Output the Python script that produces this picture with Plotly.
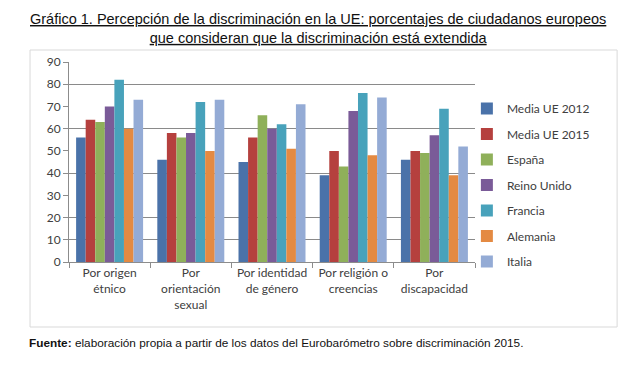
import plotly.graph_objects as go

categories = ["Por origen<br>étnico", "Por<br>orientación<br>sexual", "Por identidad<br>de género",
              "Por religión o<br>creencias", "Por<br>discapacidad"]
series_names = ["Media UE 2012", "Media UE 2015", "España", "Reino Unido", "Francia", "Alemania", "Italia"]
media_ue_2012 = [56, 46, 45, 39, 46]
media_ue_2015 = [64, 58, 56, 50, 50]
espana = [63, 56, 66, 43, 49]
reino_unido = [70, 58, 60, 68, 57]
francia = [82, 72, 62, 76, 69]
alemania = [60, 50, 51, 48, 39]
italia = [73, 73, 71, 74, 52]
y_ticks = [0, 10, 20, 30, 40, 50, 60, 70, 80, 90]
grid_ticks = [10, 20, 40, 60, 80]

series_values = [media_ue_2012, media_ue_2015, espana, reino_unido, francia, alemania, italia]
colors = ["#4a72a9", "#b5403e", "#8fb05a", "#7a5b98", "#48a2bb", "#e48a42", "#94abd5"]

fig = go.Figure()
for name, vals, col in zip(series_names, series_values, colors):
    fig.add_trace(go.Bar(x=categories, y=vals, name=name, marker_color=col,
                         marker_line_width=0, legendgroup=name))

fig.add_trace(go.Scatter(x=[categories[0]], y=[None], yaxis="y2", showlegend=False,
                         hoverinfo="skip"))

# page body has an 8px margin, so the figure is drawn 8px smaller and offset
fig.update_layout(
    width=628, height=363,
    margin=dict(l=61, r=161, t=54, b=109),
    paper_bgcolor="white", plot_bgcolor="white",
    barmode="group", bargap=0.175, bargroupgap=0,
    font=dict(family="Lato, Liberation Sans, sans-serif", size=12, color="#404040"),
    xaxis=dict(type="category", showline=True, linecolor="#8c8c8c", linewidth=1,
               ticks="outside", tickson="boundaries", ticklen=5, tickcolor="#8c8c8c",
               tickfont=dict(size=12, color="#404040"), showgrid=False),
    yaxis=dict(range=[0, 90], tickvals=y_ticks, showline=True, linecolor="#8c8c8c",
               linewidth=1, ticks="outside", ticklen=5, tickcolor="#8c8c8c",
               showgrid=False, zeroline=False, tickfont=dict(size=12, color="#404040")),
    yaxis2=dict(range=[0, 90], overlaying="y", tickvals=grid_ticks, showgrid=True,
                gridcolor="#8a8a8a", gridwidth=1, showticklabels=False, zeroline=False),
    legend=dict(x=0.98, y=0.84, xanchor="left", yanchor="top", tracegroupgap=6.5,
                font=dict(size=12, color="#404040"), bgcolor="rgba(0,0,0,0)"),
    showlegend=True,
)

# outer chart frame
fig.add_shape(type="rect", xref="paper", yref="paper", x0=-0.096, x1=1.350, y0=-0.325, y1=1.06,
              line=dict(color="#d9d9d9", width=1), fillcolor="rgba(0,0,0,0)", layer="below")

fig.add_annotation(
    text="Gráfico 1. Percepción de la discriminación en la UE: porcentajes de ciudadanos europeos<br>que consideran que la discriminación está extendida",
    xref="paper", yref="paper", x=0.613, y=1.165, xanchor="center", yanchor="middle",
    showarrow=False, align="center",
    font=dict(family="Liberation Sans, Arial, sans-serif", size=14.5, color="#111111", lineposition="under"))

fig.add_annotation(
    text="<b>Fuente:</b> elaboración propia a partir de los datos del Eurobarómetro sobre discriminación 2015.",
    xref="paper", yref="paper", x=-0.103, y=-0.405, xanchor="left", yanchor="middle",
    showarrow=False, align="left",
    font=dict(family="Liberation Sans, Arial, sans-serif", size=11.8, color="#111111"))

fig.write_html("out.html")
